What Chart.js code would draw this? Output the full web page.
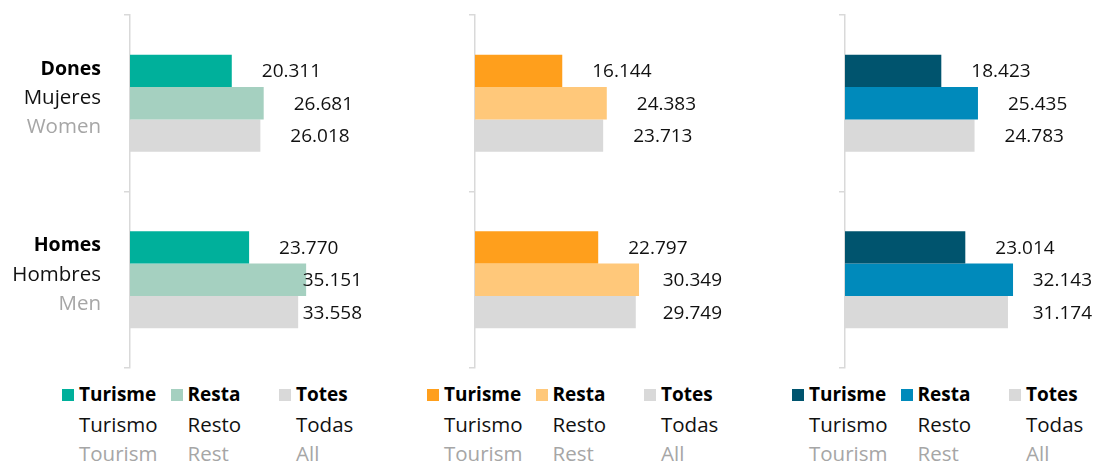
<!DOCTYPE html>
<html>
<head>
<meta charset="utf-8">
<script src="https://cdn.jsdelivr.net/npm/chart.js@4.4.1/dist/chart.umd.min.js"></script>
<style>
  html, body { margin: 0; padding: 0; background: #fff; }
  #wrap { position: relative; width: 1094px; height: 464px; overflow: hidden; font-family: 'Open Sans', sans-serif; }
  .panel { position: absolute; top: 0; height: 464px; }
  .panel canvas { display: block; }
  .legend { position: absolute; top: 380px; left: 0; }
  .item { position: absolute; top: 0; }
  .box { position: absolute; left: 0; top: 9px; width: 12px; height: 12px; }
  .txt { position: absolute; top: 0; white-space: nowrap; font-size: 19px; line-height: 29.5px; }
  .l1 { font-weight: bold; color: #000; }
  .l2 { color: #111; font-size: 20.5px; }
  .l3 { color: #a6a6a6; font-size: 20.5px; }
</style>
</head>
<body>
<div id="wrap"></div>
<script>
// categories (three languages)
const catCa = ['Dones', 'Homes'];
const catEs = ['Mujeres', 'Hombres'];
const catEn = ['Women', 'Men'];

// series names (three languages)
const serCa = ['Turisme', 'Resta', 'Totes'];
const serEs = ['Turismo', 'Resto', 'Todas'];
const serEn = ['Tourism', 'Rest', 'All'];

// panel 1
const p1Turisme = [20311, 23770];
const p1Resta   = [26681, 35151];
const p1Totes   = [26018, 33558];
// panel 2
const p2Turisme = [16144, 22797];
const p2Resta   = [24383, 30349];
const p2Totes   = [23713, 29749];
// panel 3
const p3Turisme = [18423, 23014];
const p3Resta   = [25435, 32143];
const p3Totes   = [24783, 31174];

const panels = [
  { left: 0,   width: 365, axisLeft: 130, padRight: 3, max: 46300, showCats: true,
    colors: ['#00b09b', '#a5d0c0', '#d9d9d9'], series: [p1Turisme, p1Resta, p1Totes] },
  { left: 365, width: 365, axisLeft: 110, padRight: 8, max: 45700, showCats: false,
    colors: ['#ff9f1c', '#ffc87a', '#d9d9d9'], series: [p2Turisme, p2Resta, p2Totes] },
  { left: 730, width: 364, axisLeft: 115, padRight: 2, max: 47250, showCats: false,
    colors: ['#00546e', '#008abb', '#d9d9d9'], series: [p3Turisme, p3Resta, p3Totes] }
];

const fmt = v => String(v).replace(/\B(?=(\d{3})+(?!\d))/g, '.');

// value labels right of each bar, kept inside the plot area
const valueLabels = {
  id: 'valueLabels',
  afterDatasetsDraw(chart) {
    const ctx = chart.ctx, area = chart.chartArea;
    ctx.save();
    ctx.font = '19px "Open Sans"';
    ctx.fillStyle = '#111';
    ctx.textBaseline = 'middle';
    chart.data.datasets.forEach((ds, i) => {
      chart.getDatasetMeta(i).data.forEach((bar, j) => {
        const t = fmt(ds.data[j]);
        const w = ctx.measureText(t).width;
        const x = Math.min(bar.x + 30, area.right - w);
        ctx.fillText(t, x, bar.y + 1);
      });
    });
    ctx.restore();
  }
};

// three-line category labels (bold / normal / grey)
const catLabels = {
  id: 'catLabels',
  afterDraw(chart, args, opts) {
    if (!opts.show) return;
    const ctx = chart.ctx, y = chart.scales.y;
    const x = chart.chartArea.left - 29;
    ctx.save();
    ctx.textAlign = 'right';
    ctx.textBaseline = 'middle';
    catCa.forEach((c, i) => {
      const cy = y.getPixelForValue(i) - 5;
      ctx.font = 'bold 19.5px "Open Sans"'; ctx.fillStyle = '#000';
      ctx.fillText(c, x, cy - 29);
      ctx.font = '20.5px "Open Sans"'; ctx.fillStyle = '#111';
      ctx.fillText(catEs[i], x, cy);
      ctx.fillStyle = '#a6a6a6';
      ctx.fillText(catEn[i], x, cy + 29);
    });
    ctx.restore();
  }
};

const wrap = document.getElementById('wrap');

panels.forEach(p => {
  const div = document.createElement('div');
  div.className = 'panel';
  div.style.left = p.left + 'px';
  div.style.width = p.width + 'px';
  const cv = document.createElement('canvas');
  cv.width = p.width; cv.height = 375;
  cv.style.width = p.width + 'px'; cv.style.height = '375px';
  div.appendChild(cv);

  // legend built from the series names and colours
  const lg = document.createElement('div');
  lg.className = 'legend';
  serCa.forEach((s, i) => {
    const it = document.createElement('div');
    it.className = 'item';
    it.style.left = (62 + i * 108.5) + 'px';
    it.innerHTML = `<div class="box" style="background:${p.colors[i]}"></div>
      <div class="txt" style="left:17px"><div class="l1">${s}</div><div class="l2">${serEs[i]}</div><div class="l3">${serEn[i]}</div></div>`;
    lg.appendChild(it);
  });
  div.appendChild(lg);
  wrap.appendChild(div);

  new Chart(cv, {
    type: 'bar',
    data: {
      labels: catEs,
      datasets: p.series.map((d, i) => ({
        label: serCa[i],
        data: d,
        backgroundColor: p.colors[i],
        borderWidth: 0,
        barPercentage: 1,
        categoryPercentage: 0.55
      }))
    },
    options: {
      indexAxis: 'y',
      responsive: false,
      animation: false,
      layout: { padding: { top: 15, bottom: 7, left: 0, right: p.padRight } },
      plugins: {
        legend: { display: false },
        tooltip: { enabled: false },
        catLabels: { show: p.showCats }
      },
      scales: {
        x: { display: false, min: 0, max: p.max },
        y: {
          offset: true,
          afterFit: s => { s.width = p.axisLeft; },
          ticks: { display: false },
          grid: { offset: true, drawOnChartArea: false, drawTicks: true, tickLength: 6, color: '#d9d9d9', lineWidth: 1.5 },
          border: { display: true, color: '#d9d9d9', width: 1.5 }
        }
      }
    },
    plugins: [valueLabels, catLabels]
  });
});
</script>
</body>
</html>
